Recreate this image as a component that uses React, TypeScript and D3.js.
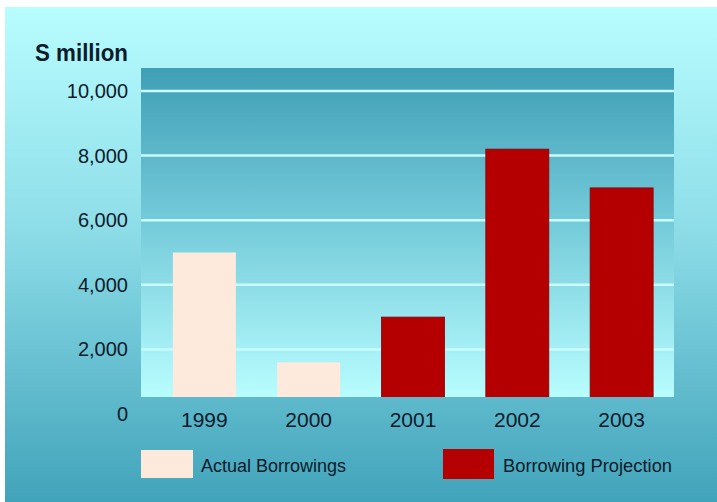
import React from "react";
import * as d3 from "d3";

const categories = ["1999", "2000", "2001", "2002", "2003"];
const actualValues = [5000, 1600, null, null, null];
const projectionValues = [null, null, 3000, 8200, 7000];
const yTicks = [0, 2000, 4000, 6000, 8000, 10000];
const seriesNames = ["Actual Borrowings", "Borrowing Projection"];
const yTitle = "S million";

const W = 717;
const H = 502;
const plot = { left: 141, right: 674, top: 68, bottom: 397 };
const FONT = "'Liberation Sans', Arial, sans-serif";
const COL_ACTUAL = "#fdeadc";
const COL_PROJ = "#b40000";
const TEXT = "#0d1b2a";

export default function App() {
  const y = d3.scaleLinear().domain([0, 10000]).range([414, 91]);
  const x = d3
    .scaleBand<string>()
    .domain(categories)
    .range([152, 674])
    .paddingInner(0.396)
    .paddingOuter(0.2);

  const bars = categories.map((c, i) => {
    const a = actualValues[i];
    const p = projectionValues[i];
    const v = a != null ? a : (p as number);
    return { c, v, color: a != null ? COL_ACTUAL : COL_PROJ, proj: a == null };
  });

  return (
    <svg
      width={W}
      height={H}
      style={{ position: "absolute", left: 0, top: 0, display: "block" }}
    >
      <defs>
        <linearGradient id="bg" x1="0" y1="0" x2="0" y2="1">
          <stop offset="0" stopColor="#b8fdff" />
          <stop offset="0.45" stopColor="#8ddde8" />
          <stop offset="1" stopColor="#41a3ba" />
        </linearGradient>
        <linearGradient id="pg" x1="0" y1="0" x2="0" y2="1">
          <stop offset="0" stopColor="#3f9fb6" />
          <stop offset="0.45" stopColor="#72c9d8" />
          <stop offset="1" stopColor="#b8fdff" />
        </linearGradient>
        <clipPath id="pc">
          <rect
            x={plot.left}
            y={plot.top}
            width={plot.right - plot.left}
            height={plot.bottom - plot.top}
          />
        </clipPath>
      </defs>
      <rect x={0} y={0} width={W} height={H} fill="#ffffff" />
      <rect x={5} y={7} width={W - 5} height={H - 7} fill="url(#bg)" />
      <rect
        x={plot.left}
        y={plot.top}
        width={plot.right - plot.left}
        height={plot.bottom - plot.top}
        fill="url(#pg)"
      />
      <g clipPath="url(#pc)">
        {yTicks
          .filter((t) => t > 0)
          .map((t) => (
            <line
              key={t}
              x1={plot.left}
              x2={plot.right}
              y1={y(t)}
              y2={y(t)}
              stroke="#c9fbff"
              strokeWidth={2.5}
            />
          ))}
        {bars.map((b) => (
          <rect
            key={b.c}
            x={x(b.c)}
            y={y(b.v)}
            width={x.bandwidth()}
            height={y(0) - y(b.v)}
            fill={b.color}
            stroke={b.proj ? "#8a0000" : "none"}
            strokeWidth={b.proj ? 0.8 : 0}
          />
        ))}
      </g>
      {yTicks.map((t) => (
        <text
          key={t}
          x={128}
          y={y(t)}
          dy="0.35em"
          textAnchor="end"
          fontFamily={FONT}
          fontSize={20}
          fill={TEXT}
        >
          {d3.format(",")(t)}
        </text>
      ))}
      <text
        x={35}
        y={53}
        dy="0.35em"
        textLength={93}
        lengthAdjust="spacingAndGlyphs"
        fontFamily={FONT}
        fontSize={24}
        fontWeight="bold"
        fill={TEXT}
      >
        {yTitle}
      </text>
      {categories.map((c) => (
        <text
          key={c}
          x={(x(c) as number) + x.bandwidth() / 2}
          y={420}
          dy="0.35em"
          textAnchor="middle"
          fontFamily={FONT}
          fontSize={21}
          fill={TEXT}
        >
          {c}
        </text>
      ))}
      <rect x={141} y={450} width={52} height={28} fill={COL_ACTUAL} />
      <text
        x={201}
        y={466}
        dy="0.35em"
        fontFamily={FONT}
        fontSize={18}
        fill={TEXT}
      >
        {seriesNames[0]}
      </text>
      <rect x={443} y={449} width={51} height={30} fill={COL_PROJ} />
      <text
        x={503}
        y={466}
        dy="0.35em"
        textLength={169}
        lengthAdjust="spacingAndGlyphs"
        fontFamily={FONT}
        fontSize={18}
        fill={TEXT}
      >
        {seriesNames[1]}
      </text>
    </svg>
  );
}
